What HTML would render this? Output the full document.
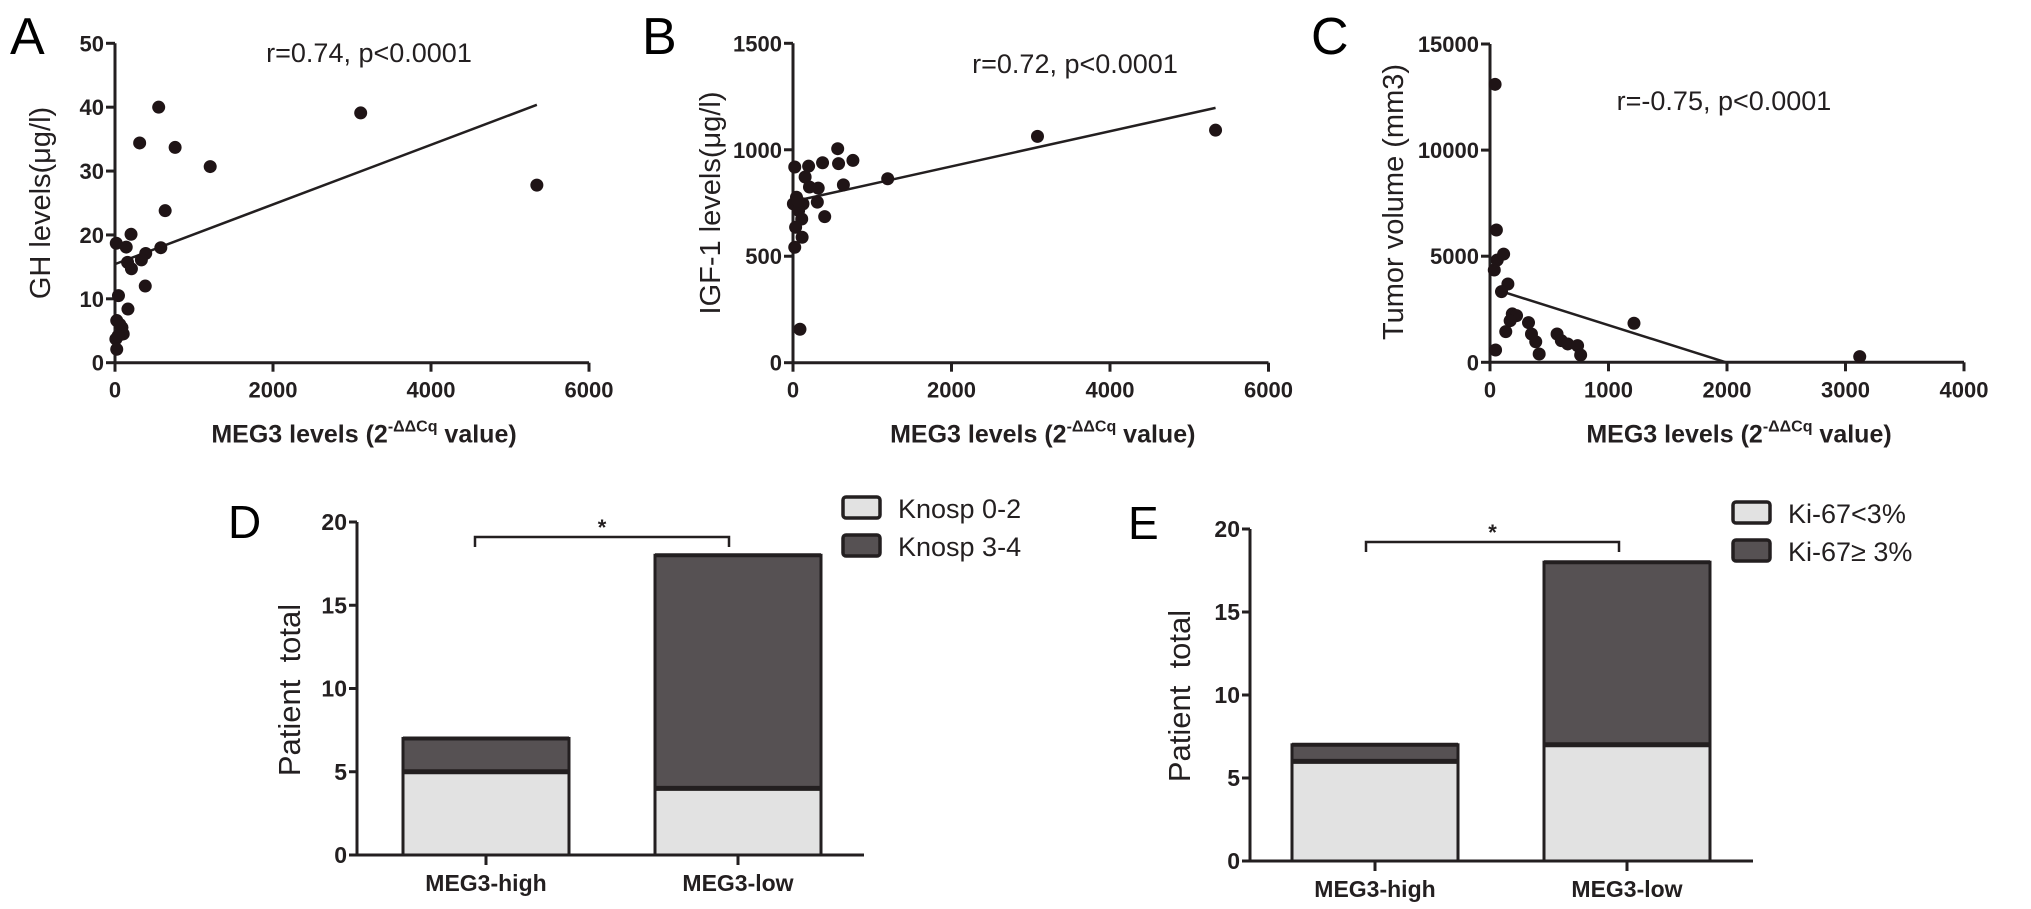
<!DOCTYPE html>
<html><head><meta charset="utf-8"><style>
html,body{margin:0;padding:0;background:#fff;}
svg{display:block;font-family:"Liberation Sans",sans-serif;}
.tk{font-family:"Liberation Sans Narrow","Liberation Sans",sans-serif;font-weight:bold;font-size:22px;fill:#231f20;}
</style></head><body>
<svg id="fig" width="2031" height="909" viewBox="0 0 2031 909" xmlns="http://www.w3.org/2000/svg"></svg>
<script>
// ---- Panel A data ----
const aX=[553,3110,312,761,1205,5340,635,203,580,16,142,389,334,159,208,383,44,164,22,88,104,11,22,60,40];
const aY=[40,39.1,34.4,33.7,30.7,27.8,23.8,20.1,18,18.7,18.1,17.1,16.1,15.7,14.7,12,10.5,8.4,6.6,5.5,4.5,3.7,2.1,6,4.2];
const aFit=[15.43,0.00467];
const aXTicks=[0,2000,4000,6000];
const aYTicks=[0,10,20,30,40,50];
// ---- Panel B data ----
const bX=[3085,5332,1195,756,564,575,373,636,197,22,318,153,208,307,400,126,44,5,71,110,33,115,22,88,60];
const bY=[1063,1092,864,950,1005,935,939,835,923,919,820,872,825,754,686,746,777,746,715,675,636,589,542,157,760];
const bFit=[757,0.0825];
const bXTicks=[0,2000,4000,6000];
const bYTicks=[0,500,1000,1500];
// ---- Panel C data ----
const cX=[43,54,36,61,115,151,97,188,224,170,133,325,350,386,415,566,602,656,739,765,47,1215,3120];
const cY=[13100,6235,4350,4820,5100,3690,3330,2280,2200,1960,1445,1870,1335,970,390,1335,1020,865,785,345,580,1840,267];
const cFit=[3516,-1.766];
const cXTicks=[0,1000,2000,3000,4000];
const cYTicks=[0,5000,10000,15000];
// ---- Panel D / E data ----
const groups=["MEG3-high","MEG3-low"];
const dLow=[5,4];   // Knosp 0-2
const dHigh=[2,14]; // Knosp 3-4
const eLow=[6,7];   // Ki-67<3%
const eHigh=[1,11]; // Ki-67>=3%
const barTicks=[0,5,10,15,20];

const NS="http://www.w3.org/2000/svg";
const svg=document.getElementById('fig');
function el(tag,attrs,parent,text){const e=document.createElementNS(NS,tag);for(const k in attrs)e.setAttribute(k,attrs[k]);if(text!==undefined)e.textContent=text;(parent||svg).appendChild(e);return e;}
function lin(d0,d1,p0,p1){return v=>p0+(v-d0)*(p1-p0)/(d1-d0);}

function scatter(name,xs,ys,fit,xt,yt,box,ytitle,ann,letter){
  const g=el('g',{});
  
  
  const sx=lin(xt[0],xt[xt.length-1],box.x0,box.x1);
  const sy=lin(yt[0],yt[yt.length-1],box.y0,box.y1);
  const ax=el('path',{d:`M${box.x0},${box.y1} V${box.y0} H${box.x1}`,fill:'none',stroke:'#231f20','stroke-width':3},g);
  
  
  xt.forEach(v=>{const x=sx(v);el('line',{x1:x,x2:x,y1:box.y0,y2:box.y0+9,stroke:'#231f20','stroke-width':3},g);
    const t=el('text',{x:x,y:box.y0+35,'text-anchor':'middle',class:'tk'},g,String(v));
    
    });
  yt.forEach(v=>{const y=sy(v);el('line',{x1:box.x0-9,x2:box.x0,y1:y,y2:y,stroke:'#231f20','stroke-width':3},g);
    const t=el('text',{x:box.x0-11,y:y+8,'text-anchor':'end',class:'tk'},g,String(v));
    
    });
  let fx0=Math.min(...xs), fx1=Math.max(...xs);
  if(fit[1]<0){fx0=60;fx1=Math.min(fx1,-fit[0]/fit[1]);}else{fx0=0;}
  const ln=el('line',{x1:sx(fx0),y1:sy(fit[0]+fit[1]*fx0),x2:sx(fx1),y2:sy(fit[0]+fit[1]*fx1),stroke:'#231f20','stroke-width':2.5},g);
  
  
  xs.forEach((v,i)=>{const c=el('circle',{cx:sx(v),cy:sy(ys[i]),r:6.5,fill:'#1f1416'},g);
    
    });
  const yl=el('text',{x:0,y:0,transform:`translate(${ytitle.x},${ytitle.y}) rotate(-90)`,'text-anchor':'middle','font-size':29,fill:'#231f20'},g,ytitle.t);
  
  
  const an=el('text',{x:ann.x,y:ann.y+10,'text-anchor':'middle','font-size':27,fill:'#231f20'},g,ann.t);
  
  
  const lt=el('text',{x:letter.x,y:letter.y,'font-size':52,fill:'#000'},g,letter.t);
  
  
  const xtl=el('text',{x:(box.x0+box.x1)/2+12,y:box.y0+80,'text-anchor':'middle','font-size':25,'font-weight':'bold',fill:'#231f20',
    'font-family':'"Liberation Sans Narrow","Liberation Sans",sans-serif'},g);
  
  
  el('tspan',{},xtl,'MEG3 levels (2');
  el('tspan',{dy:-11,'font-size':16},xtl,'-ΔΔCq');
  el('tspan',{dy:11},xtl,' value)');
}

scatter('scatter-gh',aX,aY,aFit,aXTicks,aYTicks,{x0:115,x1:589,y0:362.7,y1:43.3},
  {x:50,y:203,t:'GH levels(μg/l)'},{x:369,y:52,t:'r=0.74, p<0.0001'},{x:10,y:54,t:'A'});
scatter('scatter-igf1',bX,bY,bFit,bXTicks,bYTicks,{x0:793,x1:1268.5,y0:362.7,y1:43.3},
  {x:720,y:203,t:'IGF-1 levels(μg/l)'},{x:1075,y:63,t:'r=0.72, p<0.0001'},{x:642,y:54,t:'B'});
scatter('scatter-tumor',cX,cY,cFit,cXTicks,cYTicks,{x0:1490,x1:1964,y0:362.3,y1:44},
  {x:1403,y:202,t:'Tumor volume (mm3)'},{x:1724,y:100,t:'r=-0.75, p<0.0001'},{x:1311,y:54,t:'C'});

function bars(name,low,high,box,centers,legend,letter,bracket,ytx){
  const g=el('g',{});
  
  
  const sy=lin(0,20,box.y0,box.y1);
  const bw=166;
  groups.forEach((gn,i)=>{
    const cx=centers[i];
    const r1=el('rect',{x:cx-bw/2,y:sy(low[i]),width:bw,height:sy(0)-sy(low[i]),fill:'#e2e2e2',stroke:'#231f20','stroke-width':3},g);
    
    
    const r2=el('rect',{x:cx-bw/2,y:sy(low[i]+high[i]),width:bw,height:sy(low[i])-sy(low[i]+high[i]),fill:'#565153',stroke:'#231f20','stroke-width':3},g);
    
    
    el('line',{x1:cx-bw/2,x2:cx+bw/2,y1:sy(low[i]),y2:sy(low[i]),stroke:'#231f20','stroke-width':5},g);
    el('line',{x1:cx-bw/2,x2:cx+bw/2,y1:sy(low[i]+high[i]),y2:sy(low[i]+high[i]),stroke:'#231f20','stroke-width':4},g);
    el('line',{x1:cx,x2:cx,y1:box.y0,y2:box.y0+10,stroke:'#231f20','stroke-width':3},g);
    const t=el('text',{x:cx,y:box.y0+36,'text-anchor':'middle',class:'tk'},g,gn);
    t.style.fontSize='23px';
    
    
  });
  const ax=el('path',{d:`M${box.x0},${box.y1} V${box.y0} H${box.x1}`,fill:'none',stroke:'#231f20','stroke-width':3},g);
  
  
  barTicks.forEach(v=>{const y=sy(v);el('line',{x1:box.x0-8,x2:box.x0,y1:y,y2:y,stroke:'#231f20','stroke-width':3},g);
    const t=el('text',{x:box.x0-10,y:y+8,'text-anchor':'end',class:'tk'},g,String(v));
    t.style.fontSize='23px';
    
    });
  const yl=el('text',{x:0,y:0,transform:`translate(${ytx.x},${ytx.y}) rotate(-90)`,'text-anchor':'middle','font-size':31,fill:'#231f20'},g,'Patient\u00a0\u00a0total');
  
  
  const br=el('path',{d:`M${bracket.x0},${bracket.y+10} V${bracket.y} H${bracket.x1} V${bracket.y+10}`,fill:'none',stroke:'#231f20','stroke-width':2.5},g);
  
  
  const st=el('text',{x:(bracket.x0+bracket.x1)/2,y:bracket.y-2,'text-anchor':'middle','font-size':22,'font-weight':'bold',fill:'#231f20'},g,'*');
  
  
  legend.items.forEach((it,i)=>{
    const y=legend.y+i*38;
    const r=el('rect',{x:legend.x,y:y,width:37,height:21,rx:3,fill:i?'#565153':'#e2e2e2',stroke:'#231f20','stroke-width':3.5},g);
    
    
    const t=el('text',{x:legend.x+55,y:y+21,'font-size':27,fill:'#231f20','font-family':'"Liberation Sans Narrow","Liberation Sans",sans-serif'},g,it);
    
    
  });
  const lt=el('text',{x:letter.x,y:letter.y,'font-size':46,fill:'#000'},g,letter.t);
  
  
}
bars('bar-chart-knosp',dLow,dHigh,{x0:357,x1:864,y0:855,y1:522},[486,738],
  {x:843,y:497,items:['Knosp 0-2','Knosp 3-4']},{x:228,y:538,t:'D'},{x0:475,x1:729,y:537},{x:300,y:690});
bars('bar-chart-ki67',eLow,eHigh,{x0:1250,x1:1753,y0:861,y1:529},[1375,1627],
  {x:1733,y:502,items:['Ki-67<3%','Ki-67\u2265 3%']},{x:1128,y:539,t:'E'},{x0:1366,x1:1619,y:542},{x:1190,y:696});
</script>
</body></html>
